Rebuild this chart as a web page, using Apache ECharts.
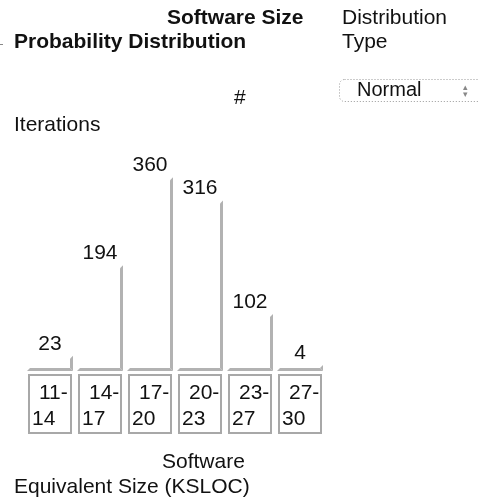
<!DOCTYPE html>
<html>
<head>
<meta charset="utf-8">
<script src="https://cdn.jsdelivr.net/npm/echarts@6/dist/echarts.min.js"></script>
<style>
    html, body { margin: 0; padding: 0; background: #fff; }
    #chart { width: 478px; height: 497px; }
</style>
</head>
<body>
<div id="chart"></div>
<script>
    // ranges of KSLOC and the iteration counts
    var categories = ['11-14', '14-17', '17-20', '20-23', '23-27', '27-30'];
    var counts = [23, 194, 360, 316, 102, 4];

    var FONT = 'Liberation Sans, Arial, sans-serif';
    var GRAY = '#b2b2b2';

    var chart = echarts.init(document.getElementById('chart'));

    // bar drawn like an old table cell: right edge + bottom edge, bevelled
    function renderBar(params, api) {
        var idx = api.value(0);
        var val = api.value(1);
        var top = api.coord([idx, val]);
        var base = api.coord([idx, 0]);
        var band = api.size([1, 0])[0];
        var L = base[0] - band / 2 + 2;
        var R = base[0] + band / 2 - 2;
        var b = base[1] + 3;
        var t = Math.min(top[1], b - 6);
        return {
            type: 'group',
            children: [
                {
                    type: 'polygon',
                    shape: { points: [[L + 3, b - 3], [R - 3, b - 3], [R, b], [L, b]] },
                    style: { fill: GRAY }
                },
                {
                    type: 'polygon',
                    shape: { points: [[R - 3, t + 3], [R, t], [R, b], [R - 3, b - 3]] },
                    style: { fill: GRAY }
                },
                {
                    type: 'text',
                    x: base[0],
                    y: t - 12,
                    style: {
                        text: String(val),
                        fill: '#111',
                        font: '21px ' + FONT,
                        align: 'center',
                        verticalAlign: 'middle'
                    }
                }
            ]
        };
    }

    var option = {
        animation: false,
        grid: { left: 25, width: 300, top: 156, height: 212 },
        xAxis: {
            type: 'category',
            data: categories,
            axisLine: { show: false },
            axisTick: { show: false },
            axisLabel: {
                interval: 0,
                margin: 7,
                formatter: function (c) {
                    var p = c.split('-');
                    return '{a|' + p[0] + '-}\n{b|' + p[1] + '}';
                },
                borderColor: '#a8a8a8',
                borderWidth: 2,
                padding: [5, 1, 1, 3],
                rich: {
                    a: {
                        width: 31,
                        padding: [0, 0, 0, 7],
                        align: 'left',
                        fontSize: 21,
                        lineHeight: 26,
                        color: '#111',
                        fontFamily: FONT
                    },
                    b: {
                        width: 38,
                        align: 'left',
                        fontSize: 21,
                        lineHeight: 26,
                        color: '#111',
                        fontFamily: FONT
                    }
                }
            }
        },
        yAxis: {
            type: 'value',
            min: 0,
            max: 400,
            show: false
        },
        series: [{
            type: 'custom',
            renderItem: renderBar,
            data: counts.map(function (v, i) { return [i, v]; })
        }],
        graphic: [
            { type: 'text', left: 167, top: 8, style: { text: 'Software Size', font: 'bold 21px ' + FONT, fill: '#111' } },
            { type: 'text', left: 14, top: 32, style: { text: 'Probability Distribution', font: 'bold 21px ' + FONT, fill: '#111' } },
            { type: 'rect', left: 0, top: 44, shape: { width: 3, height: 1 }, style: { fill: '#888' } },
            { type: 'text', left: 342, top: 8, style: { text: 'Distribution', font: '21px ' + FONT, fill: '#111' } },
            { type: 'text', left: 342, top: 32, style: { text: 'Type', font: '21px ' + FONT, fill: '#111' } },
            {
                type: 'rect', left: 339, top: 79,
                shape: { width: 150, height: 22, r: 5 },
                style: { fill: '#fff', stroke: '#999', lineWidth: 1, lineDash: [1, 2] }
            },
            { type: 'text', left: 357, top: 80, style: { text: 'Normal', font: '20px ' + FONT, fill: '#111' } },
            { type: 'text', left: 463, top: 83, style: { text: '\u25B4\n\u25BE', font: '9px ' + FONT, lineHeight: 7, fill: '#888' } },
            { type: 'text', left: 234, top: 88, style: { text: '#', font: '21px ' + FONT, fill: '#111' } },
            { type: 'text', left: 14, top: 115, style: { text: 'Iterations', font: '21px ' + FONT, fill: '#111' } },
            { type: 'text', left: 162, top: 452, style: { text: 'Software', font: '21px ' + FONT, fill: '#111' } },
            { type: 'text', left: 14, top: 477, style: { text: 'Equivalent Size (KSLOC)', font: '21px ' + FONT, fill: '#111' } }
        ]
    };

    chart.setOption(option);
</script>
</body>
</html>
